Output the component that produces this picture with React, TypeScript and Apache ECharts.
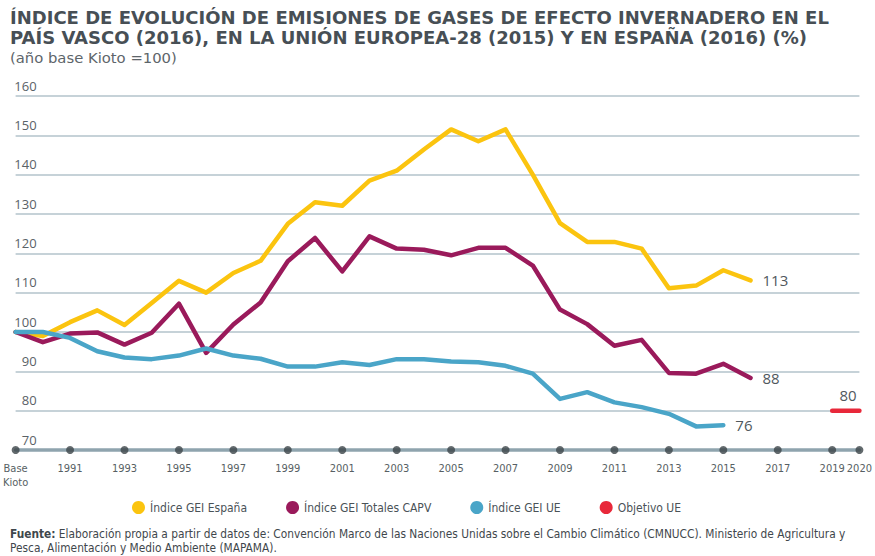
import React, { useEffect, useRef } from "react";
import * as echarts from "echarts";

const categories = [
  "Base\nKioto", "1990", "1991", "1992", "1993", "1994", "1995", "1996", "1997", "1998",
  "1999", "2000", "2001", "2002", "2003", "2004", "2005", "2006", "2007", "2008",
  "2009", "2010", "2011", "2012", "2013", "2014", "2015", "2016", "2017", "2018",
  "2019", "2020",
];
const tickCategories = [
  "Base\nKioto", "1991", "1993", "1995", "1997", "1999", "2001", "2003", "2005", "2007",
  "2009", "2011", "2013", "2015", "2017", "2019", "2020",
];

const espana = [100, 99, 102.5, 105.5, 101.8, 107.4, 113, 110, 115, 118.1, 127.5, 133, 132.1, 138.5, 141, 146.4, 151.5, 148.5, 151.5, 140, 127.7, 122.9, 122.9, 121.2, 111.1, 111.8, 115.7, 113.1];
const capv = [100, 97.4, 99.6, 99.9, 96.8, 99.8, 107.2, 94.7, 101.9, 107.5, 118, 123.9, 115.4, 124.3, 121.2, 120.9, 119.5, 121.4, 121.4, 116.9, 105.7, 102, 96.5, 98, 89.6, 89.4, 91.9, 88.3];
const ue = [100, 100, 98.5, 95.1, 93.5, 93.1, 94, 95.8, 94, 93.2, 91.2, 91.2, 92.3, 91.6, 93.1, 93.1, 92.5, 92.3, 91.4, 89.4, 83, 84.7, 82.1, 80.9, 79.2, 76, 76.3];
const objetivoYears = ["2019", "2020"];
const objetivo = [80, 80];

const seriesNames = ["Índice GEI España", "Índice GEI Totales CAPV", "Índice GEI UE", "Objetivo UE"];
const colors = ["#fbc40f", "#9a1a5b", "#4aa5c8", "#e8283a"];

const yMin = 70;
const yMax = 160;
const yStep = 10;

const titleLine1 = "ÍNDICE DE EVOLUCIÓN DE EMISIONES DE GASES DE EFECTO INVERNADERO EN EL";
const titleLine2 = "PAÍS VASCO (2016), EN LA UNIÓN EUROPEA-28 (2015) Y EN ESPAÑA (2016) (%)";
const subtitleText = "(año base Kioto =100)";
const footnoteBold = "Fuente:";
const footnoteLine1 =
  " Elaboración propia a partir de datos de: Convención Marco de las Naciones Unidas sobre el Cambio Climático (CMNUCC). Ministerio de Agricultura y";
const footnoteLine2 = "Pesca, Alimentación y Medio Ambiente (MAPAMA).";

const condensed = "'Liberation Sans Narrow', 'DejaVu Sans Condensed', 'Roboto', sans-serif";
const wideFont = "'DejaVu Sans', 'Open Sans', sans-serif";
const mainFont = "'Open Sans', 'Noto Sans', sans-serif";

export default function App() {
  const ref = useRef<HTMLDivElement>(null);

  useEffect(() => {
    document.body.style.margin = "0";
    const chart = echarts.init(ref.current, null, { renderer: "svg" });

    const endLabel = () => ({
      show: true,
      distance: 12,
      color: "#50585d",
      fontSize: 15,
      fontFamily: mainFont,
      formatter: (p: any) => String(Math.round(Array.isArray(p.value) ? p.value[1] : p.value)),
    });

    const lineSeries = (name: string, data: number[], color: string) => ({
      name,
      type: "line",
      data,
      symbol: "none",
      smooth: false,
      color,
      lineStyle: { color, width: 4.5, cap: "round", join: "round" },
      endLabel: endLabel(),
      z: 3,
    });

    const titleStyle = {
      fontFamily: wideFont,
      fontSize: 18,
      fontWeight: "bold",
      fill: "#474f55",
    };

    const option: any = {
      animation: false,
      backgroundColor: "#ffffff",
      legend: {
        data: seriesNames,
        left: 127,
        top: 496,
        icon: "circle",
        itemWidth: 13,
        itemHeight: 13,
        itemGap: 39,
        textStyle: { fontFamily: condensed, fontSize: 12, color: "#4a5257" },
      },
      grid: { left: 13, right: 15, top: 96, bottom: 106, containLabel: false },
      xAxis: {
        type: "category",
        data: categories,
        boundaryGap: false,
        axisLine: { show: true, lineStyle: { color: "#8fa4ae", width: 3.5 } },
        axisTick: { show: false },
        splitLine: { show: false },
        axisLabel: {
          interval: (index: number, value: string) => tickCategories.includes(value),
          margin: 11,
          fontFamily: condensed,
          fontSize: 11,
          color: "#575f64",
          lineHeight: 14,
        },
      },
      yAxis: {
        type: "value",
        min: yMin,
        max: yMax,
        interval: yStep,
        axisLine: { show: false },
        axisTick: { show: false },
        splitLine: { show: true, lineStyle: { color: "#b3c3cb", width: 1.5 } },
        axisLabel: {
          inside: true,
          align: "right",
          verticalAlign: "bottom",
          margin: 21,
          padding: [0, 0, 4, 0],
          fontFamily: mainFont,
          fontSize: 13,
          color: "#5a6267",
        },
      },
      series: [
        lineSeries(seriesNames[0], espana, colors[0]),
        lineSeries(seriesNames[1], capv, colors[1]),
        lineSeries(seriesNames[2], ue, colors[2]),
        {
          name: seriesNames[3],
          type: "line",
          data: objetivoYears.map((y, i) => [y, objetivo[i]]),
          symbol: "none",
          color: colors[3],
          lineStyle: { color: colors[3], width: 4.5, cap: "round" },
          endLabel: {
            show: true,
            offset: [-28, -16],
            color: "#50585d",
            fontSize: 15,
            fontFamily: mainFont,
            formatter: (p: any) => String(Math.round(p.value[1])),
          },
          z: 3,
        },
        {
          name: "axisDots",
          type: "scatter",
          data: tickCategories.map((c) => [c, yMin]),
          symbol: "circle",
          symbolSize: 8,
          itemStyle: { color: "#3c4549" },
          clip: false,
          silent: true,
          z: 5,
        },
      ],
      graphic: [
        {
          type: "text",
          left: 10,
          top: 8,
          style: { text: titleLine1, ...titleStyle },
        },
        {
          type: "text",
          left: 10,
          top: 28,
          style: { text: titleLine2, ...titleStyle },
        },
        {
          type: "text",
          left: 10,
          top: 50,
          style: { text: subtitleText, fontFamily: wideFont, fontSize: 14.8, fill: "#5d656a" },
        },
        {
          type: "text",
          left: 10,
          top: 527,
          style: {
            text: `{b|${footnoteBold}}${footnoteLine1}\n${footnoteLine2}`,
            fontFamily: condensed,
            fontSize: 11.8,
            lineHeight: 14,
            fill: "#3f474c",
            rich: {
              b: { fontFamily: condensed, fontSize: 11.8, fontWeight: "bold", fill: "#3f474c" },
            },
          },
        },
      ],
    };

    chart.setOption(option);
    return () => chart.dispose();
  }, []);

  return <div ref={ref} style={{ width: 875, height: 556 }} />;
}
